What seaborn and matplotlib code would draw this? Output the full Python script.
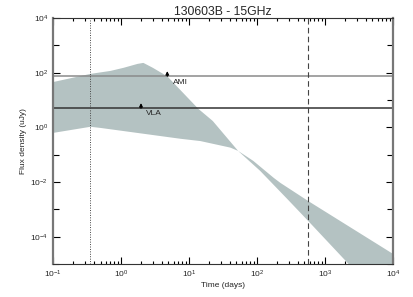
import numpy as np
import pandas as pd
import matplotlib
matplotlib.use("Agg")
import matplotlib.pyplot as plt
import seaborn as sns
from matplotlib.ticker import LogLocator, FixedLocator, NullFormatter

# ========== DATA ==========
# upper edge of the model band (days, uJy)
t_upper = [0.1, 0.35, 0.69, 1.07, 1.27, 1.72, 2.1, 2.9, 4.1, 4.8, 13.5, 22, 52,
           87, 174, 218, 560, 10000]
f_upper = [48, 95, 122, 158, 178, 220, 240, 158, 95, 74, 5.0, 1.8, 0.144,
           0.062, 0.0148, 0.0097, 0.0021, 0.000024]
# lower edge of the model band
t_lower = [0.1, 0.35, 0.49, 7.4, 14.5, 40, 52, 110, 275, 560, 2190, 10000]
f_lower = [0.66, 1.1, 1.0, 0.40, 0.33, 0.19, 0.144, 0.0266, 0.0025, 0.00039,
           0.0000105, 0.00000018]

# detection limits
limit_names = ["AMI", "VLA"]
limit_levels = [74, 5.0]
limit_times = [4.8, 1.97]
limit_colors = ["#8a8a8a", "#333333"]

t_dotted = 0.35   # vertical dotted line
t_dashed = 570    # vertical dashed line

# ========== PLOT ==========
sns.set_style("ticks")
plt.rcParams['font.family'] = ['Liberation Sans', 'DejaVu Sans']

fig = plt.figure(figsize=(4.14, 2.97), dpi=100)
ax = fig.add_axes([0.128, 0.111, 0.821, 0.828])

# interpolate both edges on a shared log grid to fill the band
grid = np.logspace(-1, 4, 600)
lo = 10 ** np.interp(np.log10(grid), np.log10(t_lower), np.log10(f_lower))
hi = 10 ** np.interp(np.log10(grid), np.log10(t_upper), np.log10(f_upper))
band = pd.DataFrame({"t": grid, "lo": lo, "hi": hi})
ax.fill_between(band["t"], band["lo"], band["hi"], color="#b4c2c2", lw=0)

for name, lev, tt, col in zip(limit_names, limit_levels, limit_times, limit_colors):
    ax.axhline(lev, color=col, lw=1.1)
    ax.annotate("", xy=(tt, lev * 1.55), xytext=(tt, lev),
                arrowprops=dict(arrowstyle="-|>", color="black", lw=0.8,
                                mutation_scale=5, shrinkA=0, shrinkB=0))
    ax.text(tt * 1.2, lev * 0.62, name, fontsize=6, va="center", ha="left")

ax.axvline(t_dotted, color="#444444", lw=0.7, ls=(0, (1, 1.5)))
ax.axvline(t_dashed, color="#444444", lw=0.8, ls=(0, (5, 3)))

ax.set_xscale("log")
ax.set_yscale("log")
ax.set_xlim(0.1, 1e4)
ax.set_ylim(1e-5, 1e4)

ax.xaxis.set_major_locator(LogLocator(base=10, numticks=10))
ax.xaxis.set_minor_locator(LogLocator(base=10, subs=np.arange(2, 10), numticks=20))
ax.xaxis.set_minor_formatter(NullFormatter())
ax.yaxis.set_major_locator(FixedLocator([1e-4, 1e-2, 1e0, 1e2, 1e4]))
ax.yaxis.set_minor_locator(FixedLocator([1e-5, 1e-3, 1e-1, 1e1, 1e3]))
ax.yaxis.set_minor_formatter(NullFormatter())

ax.tick_params(which="both", direction="in", top=True, right=True,
               labelsize=6, color="black")
ax.tick_params(which="major", length=5, width=0.8)
ax.tick_params(which="minor", length=2.5, width=0.8)
ax.tick_params(axis="y", which="minor", length=4)

for side in ["left", "right"]:
    ax.spines[side].set_color("#777777")
    ax.spines[side].set_linewidth(1.6)
for side in ["top", "bottom"]:
    ax.spines[side].set_color("#333333")
    ax.spines[side].set_linewidth(0.8)

ax.set_title("130603B - 15GHz", fontsize=8.8, pad=2)
ax.set_xlabel("Time (days)", fontsize=6, labelpad=1)
ax.set_ylabel("Flux density (uJy)", fontsize=6, labelpad=2)

plt.savefig("out.png", dpi=100)
